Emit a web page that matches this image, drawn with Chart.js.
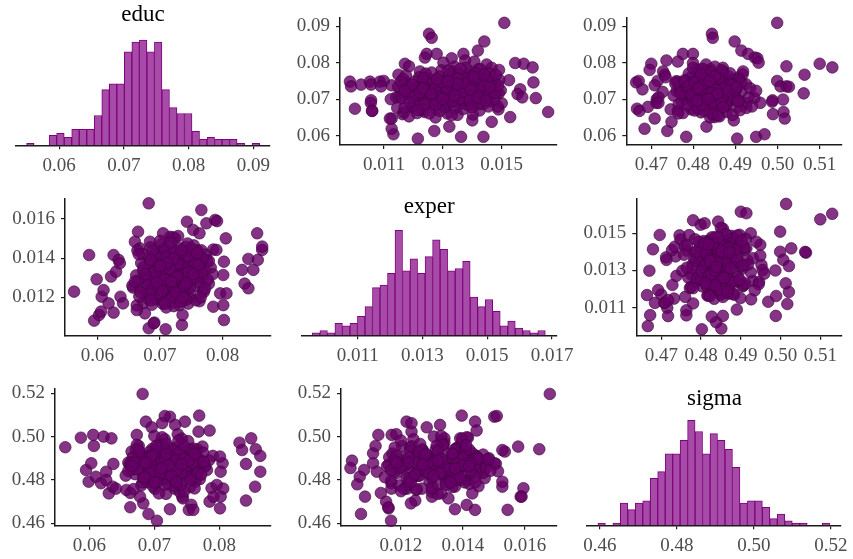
<!DOCTYPE html>
<html>
<head>
<meta charset="utf-8">
<script src="https://cdn.jsdelivr.net/npm/chart.js@4.4.0/dist/chart.umd.min.js"></script>
<style>
  html, body { margin: 0; padding: 0; background: #fff; }
  #wrap { position: relative; width: 853px; height: 559px; overflow: hidden; }
  #wrap canvas { position: absolute; left: 0; top: 0; }
</style>
</head>
<body>
<div id="wrap"></div>
<script>
// ---- histogram data (500 draws, 31 bins each) ----
const educCounts  = [1,0,0,5,6,4,8,8,8,15,28,31,31,47,52,53,47,52,28,19,16,16,7,3,4,3,3,3,1,0,1];
const experCounts = [1,2,1,5,4,5,8,12,20,21,26,44,27,32,26,33,40,36,27,28,31,16,12,15,10,4,6,3,2,1,2];
const sigmaCounts = [1,0,1,10,7,10,11,21,24,32,32,38,47,42,32,41,38,34,26,10,11,11,8,3,5,2,1,1,0,0,1];
const educBins  = { start: 0.05496,  width: 0.001162 };
const experBins = { start: 0.009601, width: 0.000232 };
const sigmaBins = { start: 0.45948,  width: 0.001941 };

// ---- tick labels ----
const educTicksHist  = [0.06, 0.07, 0.08, 0.09];
const educTicksLow   = [0.06, 0.07, 0.08];
const experTicksHist = [0.011, 0.013, 0.015, 0.017];
const experTicksUp   = [0.011, 0.013, 0.015];
const experTicksLow  = [0.012, 0.014, 0.016];
const sigmaTicksUp   = [0.47, 0.48, 0.49, 0.50, 0.51];
const sigmaTicksLow  = [0.46, 0.48, 0.50, 0.52];

// ---- draws shown above the diagonal: [educ, exper, sigma] ----
const upperDraws = [
  [0.0909,0.01509,0.4999],[0.0879,0.01253,0.4844],[0.0868,0.01262,0.4846],[0.0858,0.01441,0.4898],
  [0.0833,0.01419,0.4914],[0.0824,0.01245,0.4930],[0.0824,0.01279,0.4775],[0.0824,0.01370,0.4799],
  [0.0814,0.01239,0.4946],[0.0812,0.01330,0.4952],[0.0800,0.01302,0.4955],[0.0806,0.01376,0.4736],
  [0.0803,0.01407,0.4763],[0.0797,0.01171,0.4700],[0.0790,0.01185,0.5021],[0.0795,0.01449,0.4830],
  [0.0786,0.01466,0.4870],[0.0782,0.01421,0.4810],[0.0776,0.01222,0.4728],[0.0767,0.01149,0.4732],
  [0.0797,0.01575,0.5100],[0.0787,0.01605,0.5130],[0.0799,0.01546,0.4799],[0.0703,0.01616,0.4900],
  [0.0746,0.01608,0.4914],[0.0665,0.01658,0.5014],[0.0727,0.01563,0.4843],[0.0714,0.01554,0.4809],
  [0.0752,0.01525,0.4855],[0.0705,0.01570,0.4780],[0.0689,0.01500,0.4925],[0.0672,0.01489,0.4746],
  [0.0780,0.01491,0.4696],
  [0.0748,0.00984,0.4802],[0.0735,0.00988,0.4851],[0.0740,0.01022,0.4838],[0.0748,0.01052,0.4827],
  [0.0740,0.01056,0.4855],[0.0748,0.01086,0.4763],[0.0750,0.01099,0.4715],[0.0735,0.01090,0.4890],
  [0.0738,0.01126,0.4708],[0.0674,0.01001,0.4666],[0.0697,0.01056,0.4988],[0.0668,0.01060,0.4672],
  [0.0746,0.01168,0.4664],[0.0750,0.01299,0.4670],
  [0.0592,0.01215,0.4904],[0.0597,0.01362,0.4783],[0.0597,0.01438,0.4949],[0.0604,0.01132,0.4969],
  [0.0613,0.01271,0.4738],[0.0619,0.01126,0.4684],[0.0625,0.01322,0.4831],[0.0638,0.01466,0.4748],
  [0.0647,0.01126,0.4708],[0.0651,0.01529,0.4850],[0.0642,0.01400,0.4896],
  [0.0767,0.01396,0.5064],[0.0716,0.01400,0.5062],[0.0750,0.01401,0.4999],[0.0735,0.01357,0.5007],
  [0.0735,0.01324,0.5021],[0.0734,0.01419,0.5027],[0.0699,0.01231,0.5013],[0.0647,0.01120,0.5017],
  [0.0659,0.01163,0.4989],[0.0693,0.01300,0.4987],
  [0.0727,0.01414,0.4679],[0.0690,0.01371,0.4712],[0.0679,0.01195,0.4692],[0.0700,0.01357,0.4713],
  [0.0720,0.01410,0.4727],[0.0760,0.01428,0.4734],[0.0705,0.01141,0.4717],[0.0690,0.01055,0.4717],
  [0.0668,0.01059,0.4763],[0.0700,0.01123,0.4780],
  [0.0712,0.01180,0.4852],[0.0735,0.01215,0.4803],[0.0698,0.01240,0.4891],[0.0725,0.01262,0.4768],
  [0.0741,0.01290,0.4925],[0.0689,0.01320,0.4837],[0.0719,0.01345,0.4869],[0.0752,0.01372,0.4812],
  [0.0708,0.01398,0.4784],[0.0731,0.01420,0.4903],[0.0763,0.01445,0.4856],[0.0694,0.01462,0.4821],
  [0.0722,0.01158,0.4760],[0.0746,0.01175,0.4881],[0.0681,0.01195,0.4829],[0.0703,0.01226,0.4945],
  [0.0757,0.01251,0.4846],[0.0672,0.01277,0.4795],[0.0737,0.01305,0.4862],[0.0715,0.01330,0.4778],
  [0.0768,0.01355,0.4917],[0.0684,0.01384,0.4853],[0.0727,0.01408,0.4836],[0.0749,0.01433,0.4759],
  [0.0701,0.01455,0.4889],[0.0738,0.01478,0.4827],[0.0664,0.01168,0.4818],[0.0693,0.01206,0.4772],
  [0.0760,0.01219,0.4907],[0.0716,0.01269,0.4811],[0.0744,0.01282,0.4842],[0.0678,0.01311,0.4904],
  [0.0729,0.01338,0.4798],[0.0706,0.01366,0.4931],[0.0775,0.01390,0.4871],[0.0658,0.01402,0.4844],
  [0.0742,0.01415,0.4880],[0.0687,0.01439,0.4765],[0.0720,0.01470,0.4913],[0.0771,0.01458,0.4807],
  [0.0653,0.01185,0.4862],[0.0730,0.01193,0.4935],[0.0756,0.01165,0.4816],[0.0697,0.01257,0.4848],
  [0.0665,0.01238,0.4879],[0.0779,0.01295,0.4825],[0.0710,0.01298,0.4753],[0.0683,0.01352,0.4786],
  [0.0747,0.01340,0.4838],[0.0723,0.01380,0.4949],[0.0669,0.01425,0.4803],[0.0760,0.01395,0.4794],
  [0.0714,0.01443,0.4858],[0.0680,0.01486,0.4876],[0.0753,0.01492,0.4897],[0.0734,0.01148,0.4833],
  [0.0706,0.01152,0.4899],[0.0662,0.01212,0.4775],[0.0728,0.01236,0.4864],[0.0770,0.01242,0.4789],
  [0.0690,0.01283,0.4959],[0.0752,0.01315,0.4779],[0.0700,0.01325,0.4823],[0.0733,0.01362,0.4850],
  [0.0657,0.01350,0.4893],[0.0782,0.01428,0.4841],[0.0695,0.01412,0.4909],[0.0740,0.01450,0.4817],
  [0.0716,0.01490,0.4770],[0.0676,0.01145,0.4926],[0.0718,0.01201,0.4871],[0.0745,0.01228,0.4822],
  [0.0686,0.01262,0.4858],[0.0762,0.01288,0.4884],[0.0707,0.01312,0.4808],[0.0726,0.01322,0.4901],
  [0.0673,0.01368,0.4830],[0.0755,0.01410,0.4864],[0.0702,0.01432,0.4798],[0.0732,0.01468,0.4785],
  [0.0650,0.01275,0.4840],[0.0661,0.01315,0.4764],[0.0789,0.01340,0.4851],[0.0786,0.01378,0.4799],
  [0.0765,0.01175,0.4869],[0.0712,0.01228,0.4830],[0.0739,0.01258,0.4790],[0.0695,0.01350,0.4874],
  [0.0720,0.01392,0.4818],[0.0743,0.01385,0.4757],[0.0680,0.01455,0.4939],[0.0758,0.01468,0.4872],
  [0.0725,0.01448,0.4845],[0.0670,0.01230,0.4911],[0.0748,0.01205,0.4780],[0.0704,0.01272,0.4866],
  [0.0736,0.01300,0.4815],[0.0688,0.01395,0.4827],[0.0712,0.01418,0.4891],[0.0776,0.01332,0.4918],
  [0.0728,0.01188,0.4846],[0.0711,0.01214,0.4815],[0.0739,0.01236,0.4872],[0.0694,0.01253,0.4800],
  [0.0752,0.01265,0.4893],[0.0717,0.01287,0.4829],[0.0683,0.01301,0.4861],[0.0745,0.01318,0.4806],
  [0.0729,0.01346,0.4884],[0.0702,0.01359,0.4852],[0.0761,0.01368,0.4833],[0.0713,0.01386,0.4866],
  [0.0736,0.01402,0.4789],[0.0690,0.01416,0.4841],[0.0754,0.01424,0.4908],[0.0719,0.01437,0.4824],
  [0.0742,0.01461,0.4857],[0.0700,0.01475,0.4880],[0.0766,0.01480,0.4836],[0.0724,0.01497,0.4862],
  [0.0677,0.01170,0.4850],[0.0703,0.01163,0.4822],[0.0748,0.01158,0.4855],[0.0671,0.01215,0.4838],
  [0.0758,0.01233,0.4815],[0.0687,0.01238,0.4877],[0.0724,0.01250,0.4898],[0.0709,0.01280,0.4864],
  [0.0733,0.01276,0.4837],[0.0766,0.01322,0.4855],[0.0675,0.01340,0.4812],[0.0721,0.01367,0.4820],
  [0.0744,0.01372,0.4890],[0.0698,0.01392,0.4812],[0.0771,0.01412,0.4887],[0.0728,0.01427,0.4870],
  [0.0686,0.01422,0.4852],[0.0713,0.01455,0.4795],[0.0750,0.01452,0.4846],[0.0737,0.01440,0.4831],
  [0.0661,0.01254,0.4847],[0.0668,0.01290,0.4826],[0.0656,0.01330,0.4859],[0.0779,0.01318,0.4868],
  [0.0783,0.01360,0.4822],[0.0773,0.01262,0.4842],[0.0706,0.01198,0.4868],[0.0740,0.01196,0.4848],
  [0.0719,0.01222,0.4835],[0.0694,0.01330,0.4906],[0.0757,0.01350,0.4860],[0.0731,0.01312,0.4874],
  [0.0710,0.01340,0.4841],[0.0747,0.01295,0.4802],[0.0685,0.01275,0.4820],[0.0726,0.01395,0.4853],
  [0.0705,0.01418,0.4869],[0.0762,0.01405,0.4851],[0.0717,0.01478,0.4843],[0.0696,0.01446,0.4808],
  [0.0738,0.01488,0.4891],[0.0755,0.01280,0.4826],[0.0723,0.01170,0.4883],[0.0691,0.01186,0.4866],
  [0.0715,0.01260,0.4857],[0.0742,0.01350,0.4823],[0.0701,0.01300,0.4835],[0.0768,0.01440,0.4818],
  [0.0730,0.01232,0.4811],[0.0678,0.01398,0.4871],[0.0733,0.01460,0.4902],[0.0749,0.01318,0.4838]
];

// ---- draws shown below the diagonal: [educ, exper, sigma] ----
const lowerDraws = [
  [0.0563,0.01229,0.4951],[0.0587,0.01416,0.4995],[0.0595,0.01081,0.4846],[0.0599,0.01292,0.4792],
  [0.0603,0.01110,0.4877],[0.0606,0.01127,0.5008],[0.0607,0.01203,0.4957],[0.0610,0.01237,0.4815],
  [0.0618,0.01169,0.4785],[0.0622,0.01306,0.5000],[0.0626,0.01122,0.4838],[0.0626,0.01416,0.4800],
  [0.0630,0.01331,0.4738],[0.0634,0.01391,0.4992],[0.0636,0.01374,0.4769],[0.0637,0.01203,0.4874],
  [0.0641,0.01169,0.4760],
  [0.0831,0.01340,0.4972],[0.0835,0.01270,0.4938],[0.0841,0.01246,0.4705],[0.0841,0.01396,0.4874],
  [0.0849,0.01340,0.4992],[0.0856,0.01391,0.4942],[0.0855,0.01527,0.4769],[0.0863,0.01442,0.4911],
  [0.0863,0.01459,0.4838],
  [0.0682,0.01680,0.5197],[0.0687,0.01218,0.5069],[0.0673,0.01170,0.5008],[0.0696,0.01283,0.5043],
  [0.0724,0.01501,0.5092],[0.0716,0.01509,0.5095],[0.0732,0.01326,0.5054],[0.0747,0.01439,0.5069],
  [0.0769,0.01396,0.5097],[0.0768,0.01234,0.5023],[0.0785,0.01444,0.5028],[0.0712,0.01234,0.5062],
  [0.0665,0.01535,0.4931],[0.0660,0.01484,0.4880],[0.0668,0.01450,0.4850],[0.0684,0.01484,0.4900],
  [0.0705,0.01527,0.4938],[0.0721,0.01506,0.4875],[0.0729,0.01513,0.4840],[0.0743,0.01586,0.4723],
  [0.0766,0.01646,0.4942],[0.0774,0.01578,0.4954],[0.0788,0.01595,0.4762],[0.0753,0.01544,0.4662],
  [0.0763,0.01527,0.4792],[0.0790,0.01442,0.4911],[0.0805,0.01501,0.4877],[0.0802,0.01382,0.4838],
  [0.0801,0.01314,0.4908],[0.0796,0.01220,0.4777],[0.0806,0.01220,0.4760],[0.0802,0.01084,0.4723],
  [0.0785,0.01152,0.4700],[0.0801,0.01160,0.4669],
  [0.0663,0.01159,0.4674],[0.0704,0.01168,0.4612],[0.0683,0.01232,0.4692],[0.0691,0.01071,0.4643],
  [0.0724,0.01374,0.4665],[0.0757,0.01412,0.4685],[0.0760,0.01439,0.4662],[0.0791,0.01589,0.4723],
  [0.0744,0.01353,0.4715],
  [0.0682,0.01042,0.4889],[0.0690,0.01067,0.4815],[0.0709,0.01037,0.4855],[0.0735,0.01059,0.4780],
  [0.0736,0.01110,0.4923],[0.0676,0.01118,0.4957],[0.0663,0.01135,0.4740],
  [0.0657,0.01250,0.4754],[0.0678,0.01300,0.4723],
  [0.0712,0.01290,0.4875],[0.0735,0.01325,0.4902],[0.0698,0.01250,0.4831],[0.0725,0.01380,0.4948],
  [0.0748,0.01215,0.4869],[0.0689,0.01345,0.4790],[0.0719,0.01172,0.4922],[0.0757,0.01402,0.4815],
  [0.0704,0.01440,0.4858],[0.0731,0.01268,0.4760],[0.0768,0.01305,0.4893],[0.0676,0.01230,0.4936],
  [0.0741,0.01458,0.4884],[0.0715,0.01355,0.4803],[0.0694,0.01190,0.4851],[0.0752,0.01330,0.4979],
  [0.0708,0.01395,0.4966],[0.0729,0.01225,0.4838],[0.0662,0.01312,0.4871],[0.0781,0.01352,0.4846],
  [0.0721,0.01420,0.4782],[0.0686,0.01283,0.4910],[0.0745,0.01168,0.4796],[0.0700,0.01330,0.5003],
  [0.0760,0.01255,0.4930],[0.0733,0.01410,0.4862],[0.0670,0.01375,0.4827],[0.0716,0.01240,0.4988],
  [0.0739,0.01300,0.4745],[0.0692,0.01425,0.4897],[0.0773,0.01418,0.4878],[0.0710,0.01148,0.4813],
  [0.0750,0.01280,0.4851],[0.0680,0.01195,0.4775],[0.0727,0.01350,0.4923],[0.0702,0.01470,0.4808],
  [0.0763,0.01180,0.4838],[0.0656,0.01260,0.4820],[0.0737,0.01235,0.4955],[0.0718,0.01318,0.4736],
  [0.0697,0.01385,0.4944],[0.0755,0.01365,0.4768],[0.0685,0.01455,0.4860],[0.0742,0.01398,0.4991],
  [0.0723,0.01205,0.4889],[0.0667,0.01205,0.4905],[0.0778,0.01270,0.4868],[0.0706,0.01275,0.4845],
  [0.0731,0.01160,0.4871],[0.0748,0.01430,0.4924],[0.0690,0.01315,0.4853],[0.0714,0.01465,0.4917],
  [0.0765,0.01340,0.4814],[0.0673,0.01335,0.4962],[0.0726,0.01290,0.4830],[0.0744,0.01345,0.4876],
  [0.0701,0.01210,0.4759],[0.0758,0.01440,0.4896],[0.0682,0.01405,0.4789],[0.0720,0.01385,0.4856],
  [0.0736,0.01185,0.5011],[0.0693,0.01265,0.4931],[0.0770,0.01228,0.4804],[0.0709,0.01360,0.4839],
  [0.0751,0.01305,0.4907],[0.0664,0.01440,0.4880],[0.0732,0.01450,0.4771],[0.0717,0.01268,0.4942],
  [0.0687,0.01162,0.4905],[0.0740,0.01255,0.4819],[0.0760,0.01378,0.4945],[0.0698,0.01302,0.4770],
  [0.0724,0.01428,0.4833],[0.0678,0.01290,0.4845],[0.0746,0.01200,0.4748],[0.0712,0.01412,0.4997],
  [0.0784,0.01318,0.4890],[0.0705,0.01180,0.4950],[0.0728,0.01340,0.4865],[0.0754,0.01465,0.4832],
  [0.0695,0.01360,0.4822],[0.0738,0.01280,0.4918],[0.0668,0.01250,0.4758],[0.0719,0.01225,0.4807],
  [0.0749,0.01368,0.4857],[0.0707,0.01430,0.4738],[0.0775,0.01390,0.4926],[0.0730,0.01395,0.4801],
  [0.0684,0.01375,0.4887],[0.0762,0.01300,0.4761],[0.0713,0.01335,0.4960],[0.0743,0.01240,0.4896],
  [0.0700,0.01405,0.4910],[0.0722,0.01155,0.4864],[0.0757,0.01185,0.4912],[0.0672,0.01420,0.4940],
  [0.0734,0.01370,0.4830],[0.0696,0.01220,0.4887],[0.0766,0.01440,0.4849],[0.0716,0.01300,0.4810],
  [0.0715,0.01318,0.4870],[0.0738,0.01290,0.4893],[0.0702,0.01340,0.4852],[0.0726,0.01365,0.4911],
  [0.0748,0.01252,0.4840],[0.0691,0.01300,0.4881],[0.0720,0.01200,0.4869],[0.0760,0.01420,0.4861],
  [0.0707,0.01452,0.4897],[0.0733,0.01238,0.4812],[0.0771,0.01336,0.4874],[0.0680,0.01262,0.4905],
  [0.0744,0.01475,0.4856],[0.0712,0.01375,0.4828],[0.0697,0.01215,0.4866],[0.0754,0.01312,0.4940],
  [0.0711,0.01408,0.4935],[0.0730,0.01258,0.4852],[0.0665,0.01285,0.4848],[0.0778,0.01385,0.4862],
  [0.0723,0.01440,0.4815],[0.0689,0.01240,0.4885],[0.0742,0.01188,0.4833],[0.0703,0.01315,0.4958],
  [0.0763,0.01278,0.4908],[0.0735,0.01425,0.4846],[0.0674,0.01355,0.4850],[0.0719,0.01262,0.4966],
  [0.0741,0.01320,0.4780],[0.0694,0.01405,0.4877],[0.0768,0.01400,0.4901],[0.0708,0.01168,0.4845],
  [0.0752,0.01298,0.4867],[0.0683,0.01218,0.4808],[0.0729,0.01372,0.4939],[0.0700,0.01488,0.4842],
  [0.0765,0.01200,0.4859],[0.0660,0.01280,0.4842],[0.0739,0.01258,0.4929],[0.0716,0.01345,0.4778],
  [0.0699,0.01368,0.4918],[0.0756,0.01380,0.4800],[0.0688,0.01438,0.4873],[0.0745,0.01410,0.4960],
  [0.0725,0.01225,0.4903],[0.0669,0.01225,0.4880],[0.0776,0.01290,0.4884],[0.0708,0.01290,0.4829],
  [0.0733,0.01178,0.4891],[0.0750,0.01448,0.4898],[0.0692,0.01330,0.4830],[0.0717,0.01480,0.4896],
  [0.0767,0.01325,0.4832],[0.0677,0.01318,0.4932],[0.0727,0.01305,0.4818],[0.0746,0.01330,0.4898],
  [0.0704,0.01232,0.4790],[0.0759,0.01425,0.4877],[0.0685,0.01390,0.4812],[0.0722,0.01398,0.4868],
  [0.0737,0.01200,0.4982],[0.0695,0.01275,0.4908],[0.0772,0.01245,0.4825],[0.0711,0.01375,0.4853],
  [0.0753,0.01318,0.4889],[0.0666,0.01420,0.4865],[0.0734,0.01440,0.4790],[0.0718,0.01280,0.4920],
  [0.0686,0.01185,0.4880],[0.0742,0.01270,0.4872],[0.0762,0.01365,0.4921],[0.0700,0.01360,0.4788]
];

// ---- look ----
const FONT = '"Liberation Serif", "Times New Roman", serif';
const TICK_COLOR = '#4d4d4d';
const AXIS_COLOR = '#1a1a1a';
const BAR_FILL = '#a64ca6';
const BAR_EDGE = '#800080';
const POINT_FILL = 'rgba(102, 0, 102, 0.8)';
const POINT_EDGE = 'rgba(64, 0, 64, 0.8)';
const W = 853, H = 559;
const YW = 60;   // fixed y-axis box width
const XH = 34;   // fixed x-axis box height

Chart.defaults.font.family = FONT;

function addCanvas() {
    const c = document.createElement('canvas');
    c.width = W;
    c.height = H;
    document.getElementById('wrap').appendChild(c);
    return c;
}

function makeAxis(range, ticks, decimals, isX) {
    return {
        type: 'linear',
        min: range[0],
        max: range[1],
        offset: false,
        grid: { display: true, drawOnChartArea: false, drawTicks: true, tickLength: 4,
                color: AXIS_COLOR, lineWidth: 1.2, offset: false },
        border: { display: true, color: AXIS_COLOR, width: 1.5 },
        ticks: {
            font: { family: FONT, size: 19 },
            color: TICK_COLOR,
            padding: isX ? 5 : 6,
            maxRotation: 0,
            autoSkip: false,
            callback: v => Number(v).toFixed(decimals),
        },
        afterBuildTicks: s => { s.ticks = ticks.map(v => ({ value: v })); },
        afterFit: s => { if (isX) s.height = XH; else s.width = YW; },
    };
}

// Off-diagonal scatter panel
function scatterPanel(p) {
    const pts = p.draws.map(d => ({ x: d[p.xi], y: d[p.yi] }));
    new Chart(addCanvas(), {
        type: 'scatter',
        data: { datasets: [{
            data: pts,
            pointRadius: 5.8,
            pointHoverRadius: 5.8,
            backgroundColor: POINT_FILL,
            borderColor: POINT_EDGE,
            borderWidth: 0.8,
            clip: false,
        }] },
        options: {
            responsive: false,
            animation: false,
            events: [],
            layout: { autoPadding: false, padding: {
                left: p.plot.l - YW, right: W - p.plot.r, top: p.plot.t, bottom: H - p.plot.b - XH } },
            plugins: { legend: { display: false }, tooltip: { enabled: false } },
            scales: {
                x: makeAxis(p.xr, p.xticks, p.xdec, true),
                y: makeAxis(p.yr, p.yticks, p.ydec, false),
            },
        },
    });
}

// Diagonal histogram panel
function histPanel(p) {
    const pts = p.counts.map((c, i) => ({
        x: p.bins.start + (i + 0.5) * p.bins.width,
        y: c > 0 ? c : null,
    }));
    const padTop = p.titleY - 11.5;
    const plotTop = padTop + 27;          // title box: 23px line + 4px padding
    const peak = Math.max(...p.counts);
    const yMax = peak * (p.plot.b - plotTop) / (p.plot.b - p.peakTop);
    new Chart(addCanvas(), {
        type: 'bar',
        data: { datasets: [{
            data: pts,
            backgroundColor: BAR_FILL,
            borderColor: BAR_EDGE,
            borderWidth: 1,
            barPercentage: 1,
            categoryPercentage: 1,
        }] },
        options: {
            responsive: false,
            animation: false,
            events: [],
            layout: { autoPadding: false, padding: {
                left: p.plot.l, right: W - p.plot.r, top: padTop, bottom: H - p.plot.b - XH } },
            plugins: {
                legend: { display: false },
                tooltip: { enabled: false },
                title: {
                    display: true,
                    text: p.name,
                    color: '#000',
                    font: { family: FONT, size: 23, weight: 'normal', lineHeight: 1 },
                    padding: { top: 0, bottom: 4 },
                },
            },
            scales: {
                x: makeAxis(p.xr, p.xticks, p.xdec, true),
                y: { display: false, min: 0, max: yMax },
            },
        },
    });
}

// row 1
histPanel({ name: 'educ', counts: educCounts, bins: educBins, titleY: 15, peakTop: 40,
    plot: { l: 16, r: 270, b: 145.3 }, xr: [0.05332, 0.09258], xticks: educTicksHist, xdec: 2 });
scatterPanel({ draws: upperDraws, xi: 1, yi: 0, plot: { l: 340, r: 557, t: 7.3, b: 145 },
    xr: [0.009503, 0.016881], yr: [0.05746, 0.09239], xticks: experTicksUp, yticks: educTicksHist, xdec: 3, ydec: 2 });
scatterPanel({ draws: upperDraws, xi: 2, yi: 0, plot: { l: 626.3, r: 842, t: 7.3, b: 145 },
    xr: [0.46406, 0.5153], yr: [0.05746, 0.09239], xticks: sigmaTicksUp, yticks: educTicksHist, xdec: 2, ydec: 2 });

// row 2
scatterPanel({ draws: lowerDraws, xi: 0, yi: 1, plot: { l: 65, r: 270.7, t: 198.3, b: 335.7 },
    xr: [0.05485, 0.08766], yr: [0.01004, 0.017056], xticks: educTicksLow, yticks: experTicksLow, xdec: 2, ydec: 3 });
histPanel({ name: 'exper', counts: experCounts, bins: experBins, titleY: 207, peakTop: 230.3,
    plot: { l: 301.7, r: 556.7, b: 335.3 }, xr: [0.009272, 0.017145], xticks: experTicksHist, xdec: 3 });
scatterPanel({ draws: upperDraws, xi: 2, yi: 1, plot: { l: 636.3, r: 842, t: 198.3, b: 335.7 },
    xr: [0.46371, 0.51546], yr: [0.009495, 0.016882], xticks: sigmaTicksUp, yticks: experTicksUp, xdec: 2, ydec: 3 });

// row 3
scatterPanel({ draws: lowerDraws, xi: 0, yi: 2, plot: { l: 55, r: 270.7, t: 388.3, b: 525.7 },
    xr: [0.05472, 0.0879], yr: [0.45889, 0.5223], xticks: educTicksLow, yticks: sigmaTicksLow, xdec: 2, ydec: 2 });
scatterPanel({ draws: lowerDraws, xi: 1, yi: 2, plot: { l: 341, r: 556.7, t: 388.3, b: 525.7 },
    xr: [0.010065, 0.017023], yr: [0.45889, 0.5223], xticks: experTicksLow, yticks: sigmaTicksLow, xdec: 3, ydec: 2 });
histPanel({ name: 'sigma', counts: sigmaCounts, bins: sigmaBins, titleY: 399, peakTop: 420.3,
    plot: { l: 587, r: 842, b: 525.3 }, xr: [0.45665, 0.5224], xticks: sigmaTicksLow, xdec: 2 });
</script>
</body>
</html>
